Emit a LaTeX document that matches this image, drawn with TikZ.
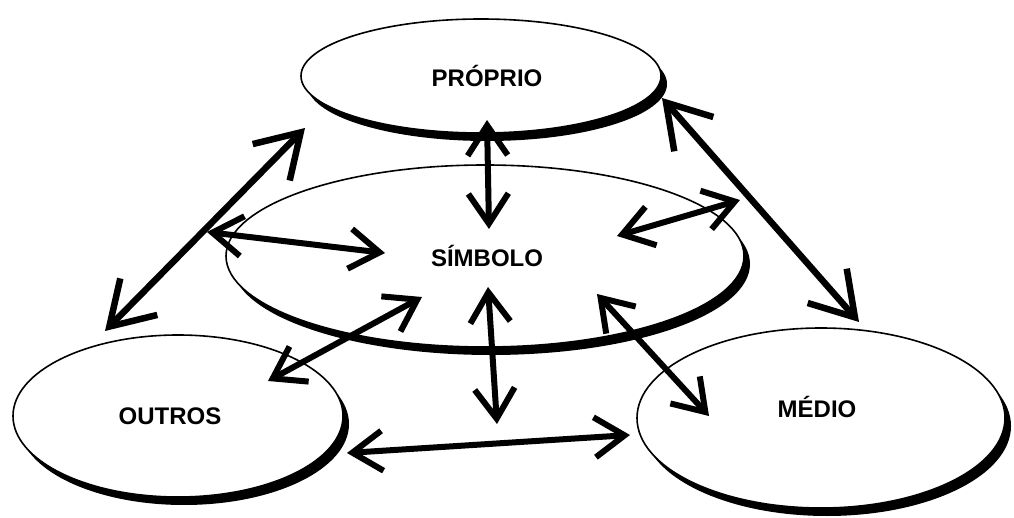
\documentclass[tikz,border=0pt]{standalone}
\usepackage{fontspec}
\setsansfont{Liberation Sans}
\usetikzlibrary{shapes.geometric,shadows,arrows.meta}

\begin{document}
\begin{tikzpicture}[x=1pt,y=-1pt,
  every node/.style={font=\sffamily\bfseries\fontsize{24}{24}\selectfont},
  campo/.style={ellipse,draw,line width=1.6pt,fill=white,inner sep=0pt,
    drop shadow={shadow xshift=6pt,shadow yshift=-8pt,fill=black,opacity=1}},
  seta/.style={line width=6pt,line cap=round,
    {Straight Barb[length=30pt,width=40pt]}-{Straight Barb[length=30pt,width=40pt]}},
  setagrande/.style={seta,line width=6.5pt,
    {Straight Barb[length=42pt,width=52pt]}-{Straight Barb[length=42pt,width=52pt]}}]
  \useasboundingbox (0,0) rectangle (1014,518);
  % the four ellipses
  \node[campo,minimum width=360pt,minimum height=114pt,
    label={[xshift=6pt]center:PRÓPRIO}] (proprio) at (481,76) {};
  \node[campo,minimum width=518pt,minimum height=182pt,
    label={[xshift=2pt]center:SÍMBOLO}] (simbolo) at (485,256) {};
  \node[campo,minimum width=330pt,minimum height=162pt,
    label={[xshift=-8pt]center:OUTROS}] (outros) at (178,416) {};
  \node[campo,minimum width=368pt,minimum height=180pt,
    label={[xshift=-4pt,yshift=11pt]center:MÉDIO}] (medio) at (821,418) {};
  % arrow ends
  \coordinate (po-o) at (105,331);
  \coordinate (po-p) at (305,128);
  \coordinate (sw-a) at (207,232);
  \coordinate (sw-b) at (385,253);
  \coordinate (ps-p) at (487,120);
  \coordinate (ps-s) at (489,229);
  \coordinate (se-a) at (617,236);
  \coordinate (se-b) at (740,200);
  \coordinate (pm-p) at (662,98);
  \coordinate (pm-m) at (859,322);
  \coordinate (so-s) at (422,297);
  \coordinate (so-o) at (268,381);
  \coordinate (ss-a) at (488,287);
  \coordinate (ss-b) at (497,424);
  \coordinate (sm-s) at (597,294);
  \coordinate (sm-m) at (709,416);
  \coordinate (om-o) at (347,453);
  \coordinate (om-m) at (630,435);
  % arrows
  \draw[setagrande] (po-o) -- (po-p);
  \draw[setagrande] (pm-p) -- (pm-m);
  \draw[seta] (sw-a) -- (sw-b);
  \draw[seta] (ps-p) -- (ps-s);
  \draw[seta] (se-a) -- (se-b);
  \draw[seta] (so-s) -- (so-o);
  \draw[seta] (ss-a) -- (ss-b);
  \draw[seta] (sm-s) -- (sm-m);
  \draw[seta] (om-o) -- (om-m);
\end{tikzpicture}
\end{document}
